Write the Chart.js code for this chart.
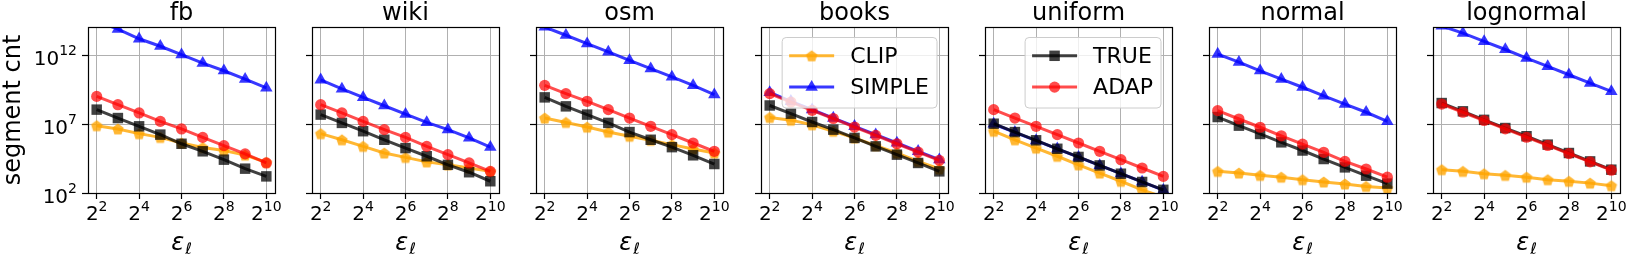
<!DOCTYPE html>
<html>
<head>
<meta charset="utf-8">
<script src="https://cdn.jsdelivr.net/npm/chart.js@4.4.1/dist/chart.umd.min.js"></script>
<style>
  html, body { margin: 0; padding: 0; background: #fff; }
  #wrap { position: relative; width: 1628px; height: 255px; overflow: hidden; }
  #wrap canvas { position: absolute; top: 0; }
</style>
</head>
<body>
<div id="wrap"></div>
<script>
// x values (epsilon_l) and tick labels (base, exponent)
const epsValues = [4, 8, 16, 32, 64, 128, 256, 512, 1024];
const xTickValues = [4, 16, 64, 256, 1024];
const xTickExps = ["2", "4", "6", "8", "10"];
const yTickValues = [1e2, 1e7, 1e12];
const yTickExps = ["2", "7", "12"];
const panelNames = ["fb", "wiki", "osm", "books", "uniform", "normal", "lognormal"];

// segment counts
const fbCLIP = [7.6e6, 4.4e6, 2.0e6, 1.07e6, 4.2e5, 2.0e5, 1.2e5, 5.6e4, 1.66e4];
const fbSIMPLE = [2.8e14, 7.6e13, 1.5e13, 4.3e12, 1.05e12, 2.6e11, 7.2e10, 1.8e10, 4.1e9];
const fbTRUE = [1.1e8, 2.7e7, 6.8e6, 1.7e6, 3.7e5, 1.05e5, 2.6e4, 5.8e3, 1.6e3];
const fbADAP = [1.0e9, 2.5e8, 6.3e7, 1.55e7, 4.4e6, 1.07e6, 2.7e5, 6.8e4, 1.5e4];

const wikiCLIP = [2.0e6, 7.2e5, 2.4e5, 7.9e4, 3.8e4, 1.8e4, 1.1e4, 6.5e3, 3.7e3];
const wikiSIMPLE = [1.6e10, 3.5e9, 8.5e8, 2.1e8, 5.2e7, 1.3e7, 3.9e6, 9.8e5, 2.1e5];
const wikiTRUE = [4.8e7, 1.2e7, 3.0e6, 7.2e5, 1.8e5, 4.6e4, 1.1e4, 3.2e3, 7.1e2];
const wikiADAP = [2.5e8, 6.3e7, 1.55e7, 3.9e6, 1.07e6, 2.4e5, 6.0e4, 1.5e4, 3.7e3];

const osmCLIP = [2.7e7, 1.3e7, 6.0e6, 2.6e6, 1.3e6, 6.6e5, 3.2e5, 1.55e5, 7.9e4];
const osmSIMPLE = [1.07e14, 2.7e13, 6.6e12, 1.66e12, 4.1e11, 1.02e11, 2.6e10, 6.3e9, 1.35e9];
const osmTRUE = [8.5e8, 1.9e8, 4.8e7, 1.2e7, 2.6e6, 7.2e5, 2.1e5, 5.4e4, 1.26e4];
const osmADAP = [6.3e9, 1.6e9, 4.4e8, 1.1e8, 2.7e7, 6.8e6, 1.7e6, 4.2e5, 1.05e5];

const booksCLIP = [3.0e7, 1.9e7, 8.9e6, 3.0e6, 9.8e5, 2.7e5, 7.9e4, 1.95e4, 5.5e3];
const booksSIMPLE = [1.95e9, 4.4e8, 1.1e8, 2.7e7, 6.8e6, 1.7e6, 4.2e5, 1.05e5, 2.6e4];
const booksTRUE = [2.2e8, 5.6e7, 1.4e7, 3.9e6, 9.8e5, 2.4e5, 6.0e4, 1.5e4, 3.7e3];
const booksADAP = [1.6e9, 3.9e8, 9.8e7, 2.5e7, 6.0e6, 1.5e6, 3.7e5, 9.3e4, 2.3e4];

const uniformCLIP = [3.0e6, 7.2e5, 1.8e5, 4.6e4, 1.1e4, 2.8e3, 7.1e2, 1.7e2, 50];
const uniformSIMPLE = [1.0e7, 2.5e6, 6.3e5, 1.6e5, 4.0e4, 1.0e4, 2.5e3, 6.3e2, 1.6e2];
const uniformTRUE = [1.05e7, 2.6e6, 6.6e5, 1.6e5, 4.1e4, 1.0e4, 2.5e3, 6.3e2, 1.7e2];
const uniformADAP = [1.1e8, 2.7e7, 6.8e6, 1.7e6, 4.2e5, 1.05e5, 2.6e4, 6.5e3, 1.6e3];

const normalCLIP = [3.7e3, 2.8e3, 1.9e3, 1.4e3, 9.3e2, 6.3e2, 4.5e2, 3.0e2, 2.3e2];
const normalSIMPLE = [1.17e12, 3.0e11, 7.2e10, 1.8e10, 4.6e9, 1.1e9, 2.8e8, 7.1e7, 1.55e7];
const normalTRUE = [3.2e7, 7.6e6, 1.9e6, 4.7e5, 1.2e5, 2.9e4, 7.2e3, 1.8e3, 4.8e2];
const normalADAP = [9.3e7, 2.3e7, 5.8e6, 1.4e6, 3.5e5, 8.9e4, 1.95e4, 5.5e3, 1.4e3];

const lognormalCLIP = [4.9e3, 3.7e3, 2.5e3, 1.9e3, 1.4e3, 9.3e2, 7.1e2, 5.2e2, 3.4e2];
const lognormalSIMPLE = [1.26e14, 3.9e13, 9.8e12, 2.5e12, 6.0e11, 1.5e11, 3.7e10, 9.3e9, 2.3e9];
const lognormalTRUE = [3.3e8, 8.3e7, 2.0e7, 5.1e6, 1.3e6, 3.2e5, 7.9e4, 1.95e4, 4.9e3];
const lognormalADAP = [2.8e8, 7.1e7, 1.8e7, 4.5e6, 1.1e6, 2.8e5, 7.1e4, 1.8e4, 4.5e3];

const panelSeries = [
  { CLIP: fbCLIP, SIMPLE: fbSIMPLE, TRUE: fbTRUE, ADAP: fbADAP },
  { CLIP: wikiCLIP, SIMPLE: wikiSIMPLE, TRUE: wikiTRUE, ADAP: wikiADAP },
  { CLIP: osmCLIP, SIMPLE: osmSIMPLE, TRUE: osmTRUE, ADAP: osmADAP },
  { CLIP: booksCLIP, SIMPLE: booksSIMPLE, TRUE: booksTRUE, ADAP: booksADAP },
  { CLIP: uniformCLIP, SIMPLE: uniformSIMPLE, TRUE: uniformTRUE, ADAP: uniformADAP },
  { CLIP: normalCLIP, SIMPLE: normalSIMPLE, TRUE: normalTRUE, ADAP: normalADAP },
  { CLIP: lognormalCLIP, SIMPLE: lognormalSIMPLE, TRUE: lognormalTRUE, ADAP: lognormalADAP },
];
const panelLegends = { 3: ["CLIP", "SIMPLE"], 4: ["TRUE", "ADAP"] };

const FONT = "DejaVu Sans";

function pentagon(r, color) {
  const c = document.createElement("canvas");
  const s = Math.ceil(2 * r + 2);
  c.width = s;
  c.height = s;
  const g = c.getContext("2d");
  g.fillStyle = color;
  g.beginPath();
  for (let k = 0; k < 5; k++) {
    const a = -Math.PI / 2 + (k * 2 * Math.PI) / 5;
    g.lineTo(s / 2 + r * Math.cos(a), s / 2 + r * Math.sin(a) + 0.6);
  }
  g.closePath();
  g.fill();
  return c;
}

// drawing order: lower "order" is painted on top
const STYLE = {
  CLIP: { color: "rgba(255,165,0,0.8)", pointStyle: pentagon(6, "rgba(255,165,0,0.8)"), radius: 6, order: 3 },
  SIMPLE: { color: "rgba(0,0,255,0.78)", pointStyle: "triangle", radius: 7.2, order: 2 },
  TRUE: { color: "rgba(0,0,0,0.75)", pointStyle: "rect", radius: 7.4, order: 1 },
  ADAP: { color: "rgba(255,0,0,0.7)", pointStyle: "circle", radius: 5.6, order: 0 },
};
const SERIES_ORDER = ["CLIP", "SIMPLE", "TRUE", "ADAP"];

// "base^exp" label, anchored by align at (x, baseline)
function powerLabel(ctx, base, exp, x, baseY, align) {
  ctx.font = `20px "${FONT}"`;
  const wb = ctx.measureText(base).width;
  ctx.font = `14px "${FONT}"`;
  const we = ctx.measureText(exp).width;
  const total = wb + we;
  let x0 = x;
  if (align === "center") x0 = x - total / 2;
  if (align === "right") x0 = x - total;
  ctx.textAlign = "left";
  ctx.textBaseline = "alphabetic";
  ctx.font = `20px "${FONT}"`;
  ctx.fillText(base, x0, baseY);
  ctx.font = `14px "${FONT}"`;
  ctx.fillText(exp, x0 + wb, baseY - 9.5);
}

const panelDecor = {
  id: "panelDecor",
  afterDatasetsDraw(chart, args, opts) {
    const { ctx, chartArea: a, scales } = chart;
    ctx.save();
    // frame
    ctx.strokeStyle = "#000";
    ctx.lineWidth = 1.2;
    ctx.strokeRect(Math.round(a.left) + 0.5, Math.round(a.top) + 0.5,
      Math.round(a.right - a.left), Math.round(a.bottom - a.top));

    ctx.fillStyle = "#000";
    // title
    ctx.font = `24px "${FONT}"`;
    ctx.textAlign = "center";
    ctx.textBaseline = "alphabetic";
    ctx.fillText(opts.title, (a.left + a.right) / 2, 20);

    // tick labels
    xTickValues.forEach((v, i) => {
      powerLabel(ctx, "2", xTickExps[i], scales.x.getPixelForValue(v), 220, "center");
    });
    if (opts.ylabel) {
      yTickValues.forEach((v, i) => {
        powerLabel(ctx, "10", yTickExps[i], 77, scales.y.getPixelForValue(v) + 9.5, "right");
      });
    }

    // x label: epsilon with subscript l
    ctx.textBaseline = "alphabetic";
    ctx.textAlign = "left";
    ctx.font = `italic 24px "${FONT}"`;
    const w1 = ctx.measureText("ε").width;
    ctx.font = `italic 16px "${FONT}"`;
    const w2 = ctx.measureText("ℓ").width;
    const cx = (a.left + a.right) / 2 - (w1 + w2 + 1) / 2;
    ctx.font = `italic 24px "${FONT}"`;
    ctx.fillText("ε", cx, 250);
    ctx.font = `italic 16px "${FONT}"`;
    ctx.fillText("ℓ", cx + w1 + 1, 254);

    // y label
    if (opts.ylabel) {
      ctx.save();
      ctx.translate(20, (a.top + a.bottom) / 2);
      ctx.rotate(-Math.PI / 2);
      ctx.font = `24px "${FONT}"`;
      ctx.textAlign = "center";
      ctx.fillText(opts.ylabel, 0, 0);
      ctx.restore();
    }

    // legend box
    if (opts.legend) {
      ctx.font = `22px "${FONT}"`;
      const tw = Math.max(...opts.legend.map((n) => ctx.measureText(n).width));
      const bw = 68 + tw + 8;
      const bh = 70.5;
      const bx = a.right - 11 - bw;
      const by = a.top + 10.5;
      const r = 4;
      ctx.beginPath();
      ctx.moveTo(bx + r, by);
      ctx.arcTo(bx + bw, by, bx + bw, by + bh, r);
      ctx.arcTo(bx + bw, by + bh, bx, by + bh, r);
      ctx.arcTo(bx, by + bh, bx, by, r);
      ctx.arcTo(bx, by, bx + bw, by, r);
      ctx.closePath();
      ctx.fillStyle = "rgba(255,255,255,0.8)";
      ctx.fill();
      ctx.strokeStyle = "#cccccc";
      ctx.lineWidth = 1;
      ctx.stroke();
      opts.legend.forEach((name, i) => {
        const st = STYLE[name];
        const yy = by + 18.3 + i * 31.3;
        ctx.strokeStyle = st.color;
        ctx.lineWidth = 3;
        ctx.beginPath();
        ctx.moveTo(bx + 7, yy);
        ctx.lineTo(bx + 52, yy);
        ctx.stroke();
        ctx.fillStyle = st.color;
        Chart.helpers.drawPoint(ctx, { pointStyle: st.pointStyle, radius: st.radius, rotation: 0, borderWidth: 0 }, bx + 29.5, yy);
        ctx.fillStyle = "#000";
        ctx.textBaseline = "middle";
        ctx.textAlign = "left";
        ctx.fillText(name, bx + 68, yy + 1);
      });
    }
    ctx.restore();
  },
};

const wrap = document.getElementById("wrap");

panelNames.forEach((name, p) => {
  const plotLeft = Math.round(87.7 + 224.27 * p);
  const canvas = document.createElement("canvas");
  canvas.width = 295;
  canvas.height = 255;
  canvas.style.left = plotLeft - 88 + "px";
  wrap.appendChild(canvas);

  const series = panelSeries[p];
  const datasets = SERIES_ORDER.map((key) => {
    const st = STYLE[key];
    return {
      label: key,
      data: epsValues.map((x, i) => ({ x, y: series[key][i] })),
      borderColor: st.color,
      backgroundColor: st.color,
      borderWidth: 3,
      pointStyle: st.pointStyle,
      pointRadius: st.radius,
      pointBorderWidth: 0,
      pointBackgroundColor: st.color,
      order: st.order,
      clip: 0,
      tension: 0,
    };
  });

  new Chart(canvas, {
    type: "line",
    data: { datasets },
    plugins: [panelDecor],
    options: {
      responsive: false,
      devicePixelRatio: 1,
      animation: false,
      events: [],
      layout: { padding: { left: 0, right: 20, top: 27, bottom: 0 } },
      plugins: {
        legend: { display: false },
        tooltip: { enabled: false },
        title: { display: false },
        panelDecor: {
          title: name,
          ylabel: p === 0 ? "segment cnt" : null,
          legend: panelLegends[p] || null,
        },
      },
      scales: {
        x: {
          type: "logarithmic",
          bounds: "data",
          min: 3.01,
          max: 1360,
          afterBuildTicks: (s) => { s.ticks = xTickValues.map((v) => ({ value: v })); },
          afterFit: (s) => { s.height = 62; },
          ticks: { display: false },
          grid: { color: "#b0b0b0", lineWidth: 1, tickColor: "#000", tickLength: 6, tickWidth: 1.2 },
          border: { display: false },
        },
        y: {
          type: "logarithmic",
          bounds: "data",
          min: 100,
          max: 1.07e14,
          afterBuildTicks: (s) => { s.ticks = yTickValues.map((v) => ({ value: v })); },
          afterFit: (s) => { s.width = 88; },
          ticks: { display: false },
          grid: { color: "#b0b0b0", lineWidth: 1, tickColor: "#000", tickLength: 6, tickWidth: 1.2 },
          border: { display: false },
        },
      },
    },
  });
});
</script>
</body>
</html>
